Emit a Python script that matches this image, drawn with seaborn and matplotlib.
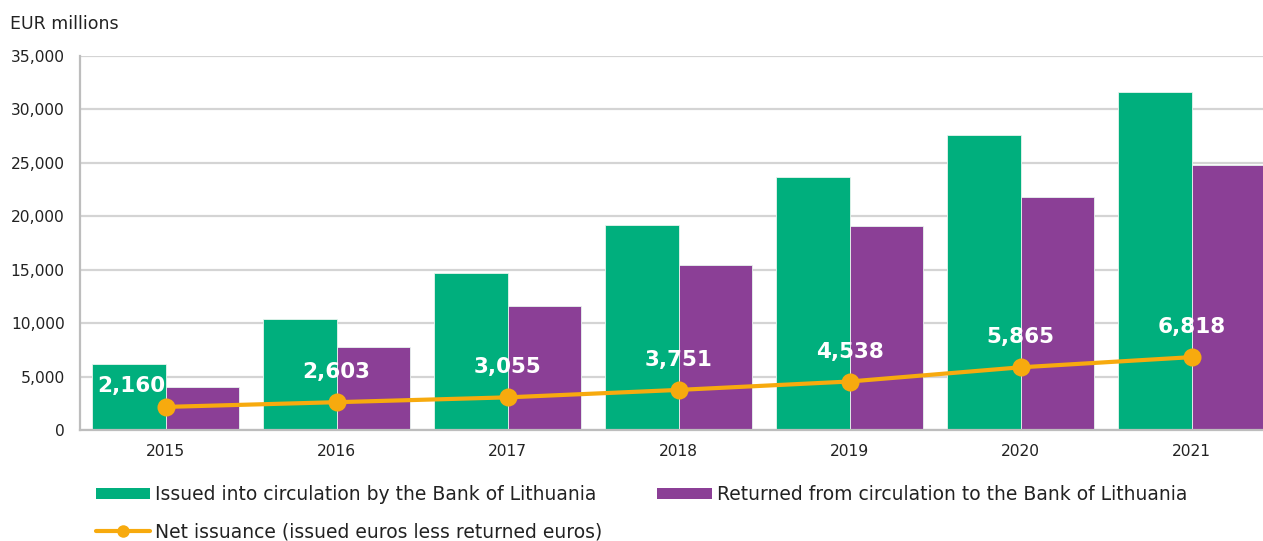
import matplotlib
matplotlib.use("Agg")
import matplotlib.pyplot as plt
import seaborn as sns
import pandas as pd
from matplotlib.patches import Patch
from matplotlib.lines import Line2D

years = ["2015", "2016", "2017", "2018", "2019", "2020", "2021"]
issued = [6160, 10400, 14700, 19150, 23650, 27650, 31600]
returned = [4000, 7797, 11645, 15399, 19112, 21785, 24782]
net = [2160, 2603, 3055, 3751, 4538, 5865, 6818]

issued_label = "Issued into circulation by the Bank of Lithuania"
returned_label = "Returned from circulation to the Bank of Lithuania"
net_label = "Net issuance (issued euros less returned euros)"

GREEN = "#00AF7D"
PURPLE = "#8B3F96"
ORANGE = "#F7AA0E"
GRID = "#D4D4D4"
TEXT = "#222222"

sns.set_theme(style="white")
plt.rcParams["font.family"] = ["DejaVu Sans"]

df = pd.DataFrame({
    "year": years * 2,
    "value": issued + returned,
    "series": [issued_label] * len(years) + [returned_label] * len(years),
})

fig = plt.figure(figsize=(12.63, 5.41), dpi=100)
ax = fig.add_axes([80 / 1263, 111 / 541, 1197 / 1263, 374 / 541])

sns.barplot(data=df, x="year", y="value", hue="series",
            palette=[GREEN, PURPLE], width=0.855, ax=ax,
            edgecolor="#E8F5EE", linewidth=0.6, saturation=1, legend=False)

x_pos = list(range(len(years)))
sns.lineplot(x=x_pos, y=net, ax=ax, color=ORANGE, linewidth=3,
             marker="o", markersize=13, markeredgewidth=0, zorder=5)

# value labels above the net issuance points
for i, v in enumerate(net):
    dx, dy = (-0.2, 2000) if i == 0 else (0, 2800)
    ax.text(i + dx, v + dy, f"{v:,}", ha="center", va="center",
            color="white", fontsize=15.5, fontweight="bold", zorder=6)

ax.set_xlim(-0.5, 6.5)
ax.set_ylim(0, 35000)
ax.set_yticks(range(0, 35001, 5000))
ax.yaxis.set_major_formatter(matplotlib.ticker.FuncFormatter(lambda v, p: f"{int(v):,}"))
ax.grid(axis="y", color=GRID, linewidth=1.6)
ax.set_axisbelow(True)
ax.set_xlabel("")
ax.set_ylabel("")
for side in ["top", "right"]:
    ax.spines[side].set_visible(False)
for side in ["left", "bottom"]:
    ax.spines[side].set_color("#BDBDBD")
    ax.spines[side].set_linewidth(1.6)
ax.tick_params(axis="y", labelsize=11.2, colors=TEXT, length=0, pad=11)
ax.tick_params(axis="x", labelsize=11.2, colors=TEXT, length=0, pad=10)

fig.text(10 / 1263, 1 - 24 / 541, "EUR millions", fontsize=12.5, color=TEXT,
         ha="left", va="center")

handles = [
    Patch(facecolor=GREEN, edgecolor="none"),
    Line2D([0], [0], color=ORANGE, linewidth=3, marker="o", markersize=9,
           markeredgewidth=0),
    Patch(facecolor=PURPLE, edgecolor="none"),
]
labels = [issued_label, net_label, returned_label]
leg = fig.legend(handles, labels, loc="upper left",
                 bbox_to_anchor=(96 / 1263, 1 - 485 / 541), ncol=2,
                 frameon=False, fontsize=13.5, handlelength=2.9, handleheight=0.55,
                 handletextpad=0.27, columnspacing=2.92, labelspacing=0.97,
                 borderaxespad=0, borderpad=0)
for t in leg.get_texts():
    t.set_color(TEXT)

fig.savefig("out.png", dpi=100)
